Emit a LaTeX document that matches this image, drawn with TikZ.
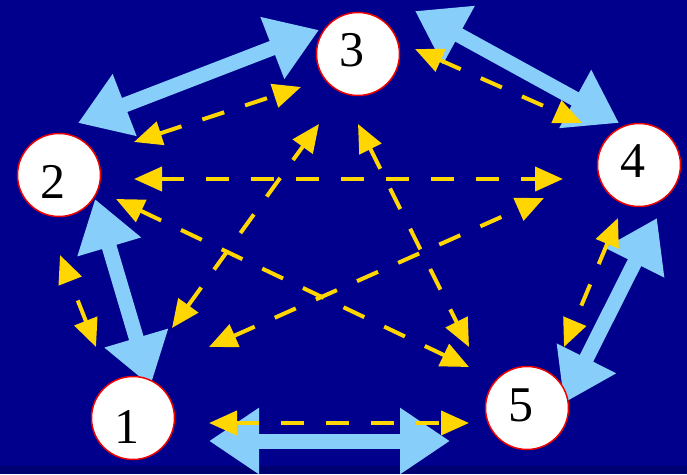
\documentclass[tikz,border=0pt]{standalone}
\usepackage{fontspec}
\setmainfont{Liberation Serif}
\usetikzlibrary{arrows.meta, calc}
\definecolor{slide}{RGB}{0,0,140}
\definecolor{slidebar}{RGB}{0,0,112}
\definecolor{skyarrow}{RGB}{135,206,250}
\definecolor{goldarrow}{RGB}{255,214,0}
\definecolor{ringred}{RGB}{240,0,0}
\pgfdeclarelayer{bg}
\pgfdeclarelayer{links}
\pgfsetlayers{bg,links,main}

\begin{document}
\begin{tikzpicture}[x=1pt, y=1pt,
  station/.style={circle, draw=ringred, line width=1.5pt, fill=white, minimum size=83pt, inner sep=0pt,
    text height=33pt, text depth=0pt, execute at begin node={\hspace*{-13pt}}, font=\fontsize{50}{50}\selectfont},
  thickarrow/.style={draw=skyarrow, line width=15pt, >={Triangle[length=50pt,width=63pt]}, <->},
  dasharrow/.style={draw=goldarrow, line width=4pt, dash pattern=on 23pt off 22pt, >={Triangle[length=28pt,width=24pt]}, <->}]

  \begin{pgfonlayer}{bg}
    \fill[slide] (0,0) rectangle (687,474);
    \fill[slidebar] (0,0) rectangle (687,8);
  \end{pgfonlayer}

  \node[station, text height=51pt] (n1) at (133,56) {1};
  \node[station, text height=47pt] (n2) at (59,299) {2};
  \node[station, text depth=8pt] (n3) at (358,420) {3};
  \node[station, text depth=7pt] (n4) at (639,309) {4};
  \node[station, text depth=6pt] (n5) at (527,66) {5};

  \begin{pgfonlayer}{links}
    % ring of neighbours
    \draw[thickarrow] ($(n1)+(17.5,32)$) -- ($(n2)+(36,-24)$);
    \draw[thickarrow] ($(n2)+(19,52)$) -- ($(n3)+(-39,24)$);
    \draw[thickarrow] ($(n3)+(57,43)$) -- ($(n4)+(-20,42)$);
    \draw[thickarrow] ($(n4)+(18,-53)$) -- ($(n5)+(37,5)$);
    \draw[thickarrow] ($(n5)+(-77,-33)$) -- ($(n1)+(76,-23)$);
    % every pair
    \draw[dasharrow] ($(n1)+(-37,71)$) -- ($(n2)+(1,-80)$);
    \draw[dasharrow] ($(n2)+(75,33)$) -- ($(n3)+(-57,-33)$);
    \draw[dasharrow] ($(n3)+(57,5)$) -- ($(n4)+(-57,42)$);
    \draw[dasharrow] ($(n4)+(-21,-53)$) -- ($(n5)+(37,61)$);
    \draw[dasharrow] ($(n1)+(76,-5)$) -- ($(n5)+(-58,-15)$);
    \draw[dasharrow] ($(n2)+(75,-4)$) -- ($(n4)+(-76,-14)$);
    \draw[dasharrow] ($(n2)+(57,-24)$) -- ($(n5)+(-58,41)$);
    \draw[dasharrow] ($(n1)+(39,90)$) -- ($(n3)+(-39,-70)$);
    \draw[dasharrow] ($(n3)+(0,-70)$) -- ($(n5)+(-58,61)$);
    \draw[dasharrow] ($(n1)+(76,71)$) -- ($(n4)+(-95,-33)$);
  \end{pgfonlayer}
\end{tikzpicture}
\end{document}
